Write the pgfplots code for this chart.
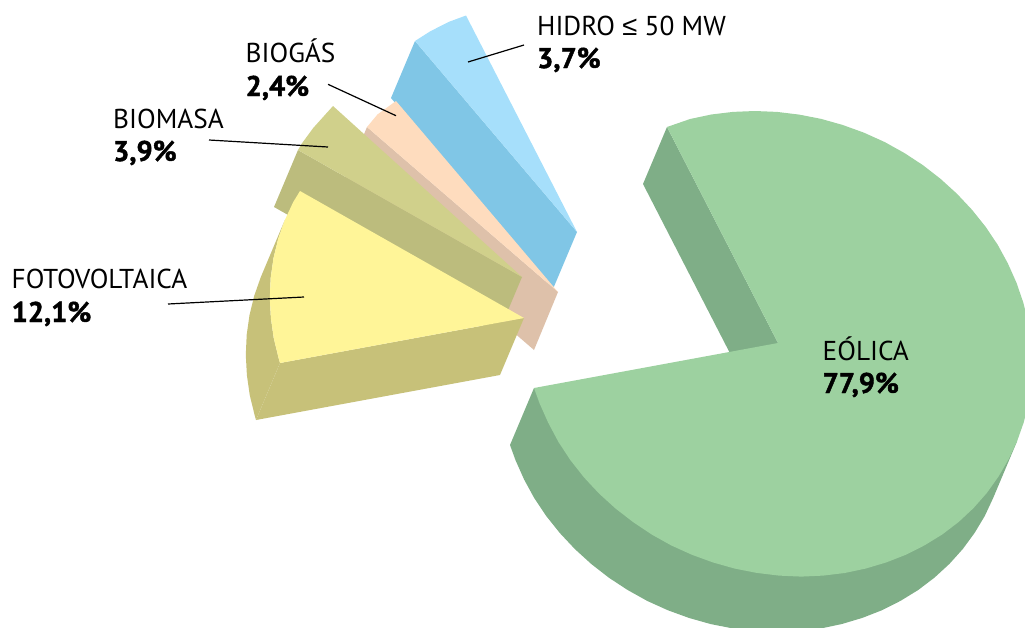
\documentclass[border=0pt]{standalone}
\usepackage{pgfplots}
\pgfplotsset{compat=1.18}
\usepackage{fontspec}
\setmainfont{PT Sans}
\newfontfamily\symfont{Liberation Sans}
\newfontfamily\heavyfont{PT Sans}[BoldFeatures={FakeBold=1.5}]

\definecolor{eoTop}{RGB}{157,209,160}
\definecolor{eoSide}{RGB}{127,174,135}
\definecolor{foTop}{RGB}{255,245,152}
\definecolor{foSide}{RGB}{199,193,121}
\definecolor{biTop}{RGB}{208,208,139}
\definecolor{biSide}{RGB}{188,188,125}
\definecolor{gaTop}{RGB}{254,220,190}
\definecolor{gaSide}{RGB}{222,193,170}
\definecolor{hiTop}{RGB}{166,223,251}
\definecolor{hiSide}{RGB}{128,198,230}

% label with a name line and a bold share line, aligned on the left
\newcommand{\pielabel}[5]{%
  \node[anchor=base west,inner sep=0pt,font=\fontsize{27.3}{27.3}\selectfont] at (axis cs:#1,#2) {#3};
  \node[anchor=base west,inner sep=0pt,font=\fontsize{28.5}{28.5}\selectfont\heavyfont\bfseries] at (axis cs:#1,#4) {#5};
}

\begin{document}
\begin{tikzpicture}
\useasboundingbox (0,0) rectangle (1025pt,627pt);
\begin{axis}[
  at={(0,0)},anchor=south west,
  scale only axis,
  width=1025pt,
  height=627pt,
  xmin=0,xmax=1025,
  ymin=0,ymax=627,
  y dir=reverse,
  hide axis,
  clip=true,
  no markers,
  every axis plot/.append style={draw=none,line join=round},
]
% Hidro
\addplot[fill=hiSide] coordinates {(415,41)(577,232)(553,289)(391,98)};
\addplot[fill=hiTop] coordinates {(577,232)(466,15.5)(449,21.8)(430.4,31.2)(415,41)};
% Biogas
\addplot[fill=gaSide] coordinates {(367,127)(558,292)(534,350)(343,185)};
\addplot[fill=gaTop] coordinates {(558,292)(396,101)(377.5,114.4)(367,127)};
% Biomasa
\addplot[fill=biSide] coordinates {(298,150)(522,277)(498,334)(274,207)};
\addplot[fill=biTop] coordinates {(522,277)(333,106)(326.6,113.1)(313.2,128)(301.4,144.1)(298,150)};
% Fotovoltaica: rim, front wall, top
\addplot[fill=foSide] coordinates {(284.8,220.1)(278.2,238.8)(273.5,258.1)(270.7,277.8)(269.8,297.9)(270.9,318.2)(273.8,338.4)(278.7,358.4)(280,363)
  (256,420)(254.7,415.4)(249.8,395.4)(246.9,375.2)(245.8,354.9)(246.7,334.8)(249.5,315.1)(254.2,295.8)(260.8,277.1)};
\addplot[fill=foSide] coordinates {(280,363)(524,318)(500,375)(256,420)};
\addplot[fill=foTop] coordinates {(524,318)(300,191)(293.2,202.1)(284.8,220.1)(278.2,238.8)(273.5,258.1)(270.7,277.8)(269.8,297.9)(270.9,318.2)(273.8,338.4)(278.7,358.4)(280,363)};
% Eolica: inner wall, rim, top
\addplot[fill=eoSide] coordinates {(667,127)(778,343)(754,400)(643,184)};
\addplot[fill=eoSide] coordinates {(534,388)(510,445)(515.5,460.2)(524.1,479.5)(534.3,498.2)(546.3,516.1)(559.9,533.1)(575,549.2)(591.4,564.1)(609,577.8)(627.8,590.1)(647.4,601)(668,610.3)(689.2,618)(710.8,624.1)(732.8,628.4)(755,631.1)(777.2,632)(799.1,631.1)(820.7,628.5)(841.9,624)(862.3,617.9)(882,610.2)(900.6,600.8)(918.2,590)(934.5,577.6)(949.4,563.9)(962.8,549)(974.6,532.9)(984.8,515.9)(993.2,497.9)(1017.2,440.9)(778,400)};
\addplot[fill=eoTop] coordinates {(778,343)(667,127)(690.1,119)(711.3,114.5)(732.9,111.9)(754.8,111)(777,111.9)(799.2,114.6)(821.2,118.9)(842.8,125)(864,132.7)(884.6,142)(904.2,152.9)(923,165.2)(940.6,178.9)(957,193.8)(972.1,209.9)(985.7,226.9)(997.7,244.8)(1007.9,263.5)(1016.5,282.8)(1023.3,302.6)(1028.2,322.6)(1031.1,342.8)(1032.2,363.1)(1031.3,383.2)(1028.5,402.9)(1023.8,422.2)(1017.2,440.9)(1008.8,458.9)(998.6,476.4)(986.8,493)(973.4,508.2)(958.5,522.1)(942.2,534.5)(924.6,545.3)(906,554.7)(886.3,562.4)(865.9,568.5)(844.7,573)(823.1,575.6)(801.2,576.6)(779,575.6)(756.8,572.9)(734.8,568.6)(713.2,562.5)(692,554.8)(671.4,545.5)(651.8,534.6)(633,522)(615.4,508.4)(599,493.5)(583.9,477.3)(570.3,460)(558.3,441.7)(548.1,422.5)(539.5,403.2)(534,388)};
% Leader lines
\addplot[draw=black,line width=1.2pt] coordinates {(524,45)(468,62)};
\addplot[draw=black,line width=1.2pt] coordinates {(328,84.3)(396,115.7)};
\addplot[draw=black,line width=1.2pt] coordinates {(209,140)(328,147)};
\addplot[draw=black,line width=1.2pt] coordinates {(168,304)(304,297)};
% Labels
\pielabel{537}{35}{HIDRO {\symfont ≤} 50 MW}{68}{3,7\%}
\pielabel{245.5}{62}{BIOGÁS}{96}{2,4\%}
\pielabel{113}{128}{BIOMASA}{161}{3,9\%}
\pielabel{11.5}{288}{FOTOVOLTAICA}{322}{12,1\%}
\pielabel{822.5}{360}{EÓLICA}{393}{77,9\%}
\end{axis}
\end{tikzpicture}
\end{document}
